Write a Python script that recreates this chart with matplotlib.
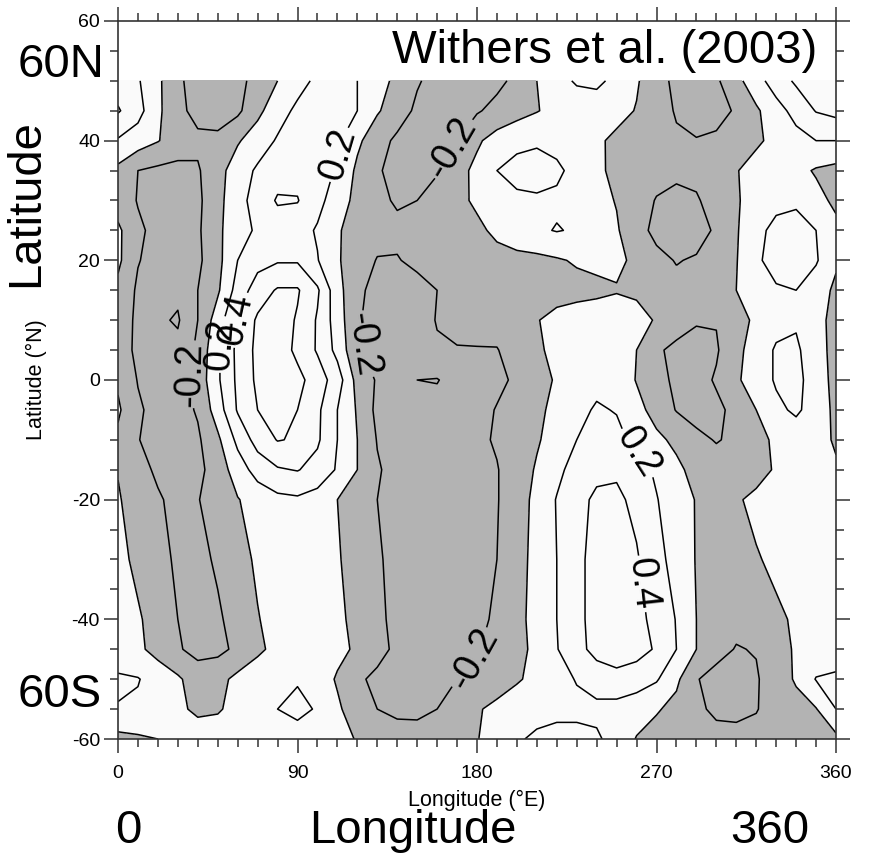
import numpy as np
import matplotlib
matplotlib.use("Agg")
import matplotlib.pyplot as plt
from matplotlib.ticker import MultipleLocator

plt.rcParams['font.family'] = ['Liberation Sans', 'DejaVu Sans']
plt.rcParams['axes.unicode_minus'] = False

# ---- data ----
lon = [0, 10, 20, 30, 40, 50, 60, 70, 80, 90, 100, 110, 120, 130, 140, 150, 160, 170, 180,
       190, 200, 210, 220, 230, 240, 250, 260, 270, 280, 290, 300, 310, 320, 330, 340, 350, 360]
lat = [-60, -55, -50, -45, -40, -30, -20, -15, -10, -5, 0, 5, 10, 15, 20, 25, 30, 35, 40, 45, 50]

z_s60 = [-0.06, -0.03, 0.0, 0.05, 0.08, 0.1, 0.12, 0.14, 0.15, 0.15, 0.18, 0.1, -0.02, -0.08, -0.12, -0.13, -0.12, -0.08, -0.01,
         0.1, 0.18, 0.23, 0.25, 0.25, 0.23, 0.12, -0.01, -0.08, -0.11, -0.13, -0.15, -0.15, -0.14, -0.11, -0.08, -0.06, -0.05]
z_s55 = [0.19, 0.17, 0.1, 0.03, -0.03, -0.02, 0.06, 0.12, 0.2, 0.23, 0.19, 0.03, -0.1, -0.2, -0.24, -0.24, -0.2, -0.12, -0.02,
         0.05, 0.1, 0.14, 0.16, 0.16, 0.15, 0.13, 0.08, 0.02, -0.06, -0.17, -0.23, -0.24, -0.21, -0.12, -0.06, -0.01, 0.2]
z_s50 = [0.23, 0.21, 0.12, 0.03, -0.1, -0.06, 0.05, 0.12, 0.16, 0.19, 0.1, -0.02, -0.17, -0.24, -0.27, -0.26, -0.23, -0.2, -0.16,
         -0.1, -0.02, 0.05, 0.14, 0.21, 0.3, 0.34, 0.3, 0.22, 0.04, -0.19, -0.26, -0.27, -0.22, -0.09, 0.02, 0.21, 0.24]
z_s45 = [0.08, 0.04, -0.07, -0.18, -0.26, -0.25, -0.16, -0.04, 0.06, 0.1, 0.09, 0.05, -0.03, -0.14, -0.24, -0.28, -0.29, -0.26, -0.21,
         -0.15, -0.06, 0.05, 0.19, 0.34, 0.46, 0.5, 0.47, 0.38, 0.2, 0.0, -0.14, -0.21, -0.19, -0.1, 0.03, 0.07, 0.08]
z_s40 = [0.06, 0.02, -0.07, -0.2, -0.27, -0.23, -0.12, -0.01, 0.07, 0.1, 0.08, 0.03, -0.04, -0.16, -0.25, -0.28, -0.29, -0.27, -0.23,
         -0.18, -0.05, 0.06, 0.2, 0.35, 0.47, 0.5, 0.46, 0.34, 0.19, 0.0, -0.1, -0.15, -0.11, -0.04, 0.03, 0.06, 0.06]
z_s30 = [0.05, -0.04, -0.14, -0.23, -0.26, -0.17, -0.07, 0.03, 0.09, 0.11, 0.08, 0.02, -0.09, -0.18, -0.25, -0.28, -0.29, -0.28, -0.25,
         -0.2, -0.07, 0.06, 0.2, 0.35, 0.47, 0.5, 0.42, 0.27, 0.12, -0.01, -0.1, -0.1, -0.02, 0.05, 0.08, 0.08, 0.07]
z_s20 = [0.02, -0.1, -0.18, -0.25, -0.21, -0.1, -0.01, 0.08, 0.15, 0.17, 0.12, 0.0, -0.12, -0.2, -0.25, -0.28, -0.29, -0.28, -0.25,
         -0.21, -0.1, 0.06, 0.21, 0.35, 0.43, 0.44, 0.35, 0.21, 0.09, -0.01, -0.12, -0.03, 0.06, 0.1, 0.1, 0.08, 0.05]
z_s15 = [-0.01, -0.14, -0.23, -0.28, -0.25, -0.11, 0.1, 0.28, 0.38, 0.41, 0.33, 0.18, 0.0, -0.18, -0.27, -0.3, -0.31, -0.3, -0.27,
         -0.21, -0.1, 0.02, 0.15, 0.28, 0.36, 0.37, 0.28, 0.17, 0.04, -0.06, -0.13, -0.15, -0.1, 0.03, 0.08, 0.06, 0.02]
z_s10 = [-0.04, -0.19, -0.3, -0.32, -0.23, -0.04, 0.25, 0.48, 0.61, 0.58, 0.43, 0.2, 0.0, -0.21, -0.28, -0.3, -0.3, -0.28, -0.24,
         -0.18, -0.1, -0.02, 0.08, 0.2, 0.28, 0.25, 0.15, 0.04, -0.04, -0.16, -0.21, -0.17, -0.07, 0.04, 0.1, 0.06, -0.02]
z_s05 = [0.03, -0.17, -0.27, -0.28, -0.18, 0.1, 0.42, 0.6, 0.65, 0.6, 0.44, 0.2, -0.02, -0.25, -0.3, -0.32, -0.33, -0.3, -0.26,
         -0.19, -0.12, -0.04, 0.05, 0.15, 0.22, 0.19, 0.06, -0.07, -0.21, -0.26, -0.24, -0.15, 0.0, 0.16, 0.23, 0.12, -0.05]
z_eq = [-0.03, -0.21, -0.3, -0.3, -0.13, 0.17, 0.44, 0.64, 0.7, 0.66, 0.5, 0.3, -0.07, -0.22, -0.3, -0.4, -0.41, -0.32, -0.28,
        -0.24, -0.17, -0.07, 0.02, 0.1, 0.15, 0.12, -0.01, -0.15, -0.23, -0.27, -0.18, -0.03, 0.1, 0.22, 0.27, 0.08, -0.05]
z_n05 = [-0.06, -0.26, -0.34, -0.35, -0.16, 0.17, 0.45, 0.65, 0.72, 0.55, 0.38, 0.14, -0.17, -0.28, -0.32, -0.3, -0.22, -0.21, -0.21,
         -0.21, -0.1, -0.03, 0.05, 0.09, 0.1, 0.07, 0.0, -0.17, -0.25, -0.28, -0.22, -0.06, 0.1, 0.22, 0.24, 0.06, -0.05]
z_n10 = [-0.06, -0.25, -0.37, -0.42, -0.2, 0.1, 0.42, 0.63, 0.7, 0.58, 0.38, 0.1, -0.18, -0.27, -0.3, -0.28, -0.19, -0.15, -0.13,
         -0.11, -0.08, -0.01, 0.06, 0.09, 0.1, 0.08, 0.04, -0.01, -0.1, -0.18, -0.19, -0.08, 0.04, 0.14, 0.17, 0.05, -0.05]
z_n15 = [-0.05, -0.23, -0.33, -0.36, -0.2, -0.03, 0.28, 0.5, 0.62, 0.62, 0.43, 0.07, -0.16, -0.26, -0.29, -0.26, -0.2, -0.15, -0.13,
         -0.12, -0.11, -0.1, -0.08, -0.06, -0.04, -0.01, -0.02, -0.1, -0.15, -0.16, -0.1, 0.0, 0.12, 0.18, 0.2, 0.1, -0.04]
z_n20 = [0.04, -0.19, -0.27, -0.29, -0.24, -0.06, 0.2, 0.33, 0.38, 0.38, 0.21, 0.02, -0.1, -0.21, -0.21, -0.16, -0.12, -0.1, -0.09,
         -0.08, -0.06, -0.05, -0.02, 0.02, 0.04, 0.03, -0.03, -0.15, -0.21, -0.18, -0.1, -0.01, 0.17, 0.27, 0.29, 0.22, 0.03]
z_n25 = [0.04, -0.17, -0.25, -0.27, -0.23, -0.04, 0.12, 0.23, 0.3, 0.28, 0.18, 0.02, -0.08, -0.13, -0.16, -0.17, -0.16, -0.12, -0.05,
         0.05, 0.12, 0.17, 0.21, 0.18, 0.12, 0.02, -0.13, -0.25, -0.3, -0.28, -0.17, -0.02, 0.15, 0.25, 0.27, 0.2, 0.05]
z_n30 = [-0.1, -0.21, -0.27, -0.28, -0.24, -0.06, 0.13, 0.28, 0.42, 0.41, 0.26, 0.1, -0.06, -0.16, -0.22, -0.2, -0.15, -0.06, 0.04,
         0.12, 0.17, 0.18, 0.17, 0.12, 0.06, -0.01, -0.12, -0.21, -0.25, -0.22, -0.12, -0.02, 0.08, 0.15, 0.17, 0.06, -0.04]
z_n35 = [-0.05, -0.2, -0.24, -0.25, -0.22, -0.07, 0.1, 0.23, 0.32, 0.34, 0.28, 0.18, -0.04, -0.18, -0.26, -0.27, -0.21, -0.07, 0.05,
         0.2, 0.25, 0.26, 0.23, 0.15, 0.04, -0.05, -0.1, -0.14, -0.16, -0.15, -0.1, -0.01, 0.07, 0.1, 0.06, -0.02, -0.06]
z_n40 = [0.18, 0.1, 0.01, -0.1, -0.16, -0.15, -0.02, 0.1, 0.22, 0.28, 0.3, 0.24, 0.04, -0.12, -0.24, -0.3, -0.28, -0.2, -0.03,
         0.08, 0.16, 0.18, 0.15, 0.1, 0.03, -0.04, -0.09, -0.13, -0.17, -0.19, -0.17, -0.11, -0.03, 0.05, 0.13, 0.2, 0.2]
z_n45 = [0.42, 0.27, 0.04, -0.15, -0.26, -0.3, -0.24, -0.05, 0.12, 0.24, 0.3, 0.28, 0.2, 0.02, -0.1, -0.24, -0.33, -0.32, -0.22,
         -0.14, -0.08, -0.01, 0.06, 0.1, 0.1, 0.06, -0.01, -0.1, -0.22, -0.28, -0.26, -0.18, -0.03, 0.12, 0.27, 0.41, 0.46]
z_n50 = [0.3, 0.22, 0.04, -0.17, -0.27, -0.3, -0.25, -0.14, 0.0, 0.13, 0.24, 0.28, 0.2, 0.08, -0.05, -0.18, -0.27, -0.32, -0.3,
         -0.25, -0.15, 0.0, 0.14, 0.22, 0.24, 0.15, 0.02, -0.12, -0.25, -0.3, -0.23, -0.06, 0.12, 0.3, 0.43, 0.5, 0.52]

rows = [z_s60, z_s55, z_s50, z_s45, z_s40, z_s30, z_s20, z_s15, z_s10, z_s05, z_eq,
        z_n05, z_n10, z_n15, z_n20, z_n25, z_n30, z_n35, z_n40, z_n45, z_n50]

x_ticks = [0, 90, 180, 270, 360]
y_ticks = [-60, -40, -20, 0, 20, 40, 60]
line_levels = [-0.4, -0.2, 0.0, 0.2, 0.4, 0.6]
label_spots = {
    -0.2: [(35, 1), (128, 6), (166, 39), (180, -47)],
    0.2: [(50, 6), (105, 38), (266, -11)],
    0.4: [(61, 10), (265, -34)],
}

# ---- figure ----
W, H = 870, 855
fig = plt.figure(figsize=(W / 100, H / 100), dpi=100)
ax = fig.add_axes([118 / W, 1 - 739 / H, (836 - 118) / W, (739 - 21) / H])

Z = np.array(rows)
ax.contourf(lon, lat, Z, levels=[-2, 0, 2], colors=['#b3b3b3', '#fafafa'])
lab_fs = 27
for lev in line_levels:
    cs = ax.contour(lon, lat, Z, levels=[lev], colors='black',
                    linewidths=1.1, linestyles='solid')
    if lev in label_spots:
        cs.clabel(inline=True, fmt='%g', fontsize=lab_fs, manual=label_spots[lev])

ax.set_xlim(0, 360)
ax.set_ylim(-60, 60)
ax.set_xticks(x_ticks)
ax.set_yticks(y_ticks)
ax.set_xticklabels([str(v) for v in x_ticks])
ax.set_yticklabels([str(v) for v in y_ticks])
ax.xaxis.set_minor_locator(MultipleLocator(10))
ax.yaxis.set_minor_locator(MultipleLocator(5))
ax.tick_params(which='both', direction='out', top=True, right=True,
               labeltop=False, labelright=False, width=1.1, color='#333333')
ax.tick_params(which='major', length=10, labelsize=14)
ax.tick_params(which='minor', length=5.5)
ax.tick_params(axis='x', which='major', pad=9)
ax.tick_params(axis='y', which='major', pad=3)
for s in ax.spines.values():
    s.set_linewidth(1.2)
    s.set_color('#333333')

# axis labels
fig.text(36 / W, 1 - 380 / H, 'Latitude (°N)', rotation=90, ha='center', va='center', fontsize=15.5)
fig.text(477 / W, 1 - 800 / H, 'Longitude (°E)', ha='center', va='center', fontsize=15.5)

# large annotations
big = 34
fig.text(817 / W, 1 - 63 / H, 'Withers et al. (2003)', ha='right', va='baseline', fontsize=big)
fig.text(18 / W, 1 - 77 / H, '60N', ha='left', va='baseline', fontsize=big)
fig.text(18 / W, 1 - 707 / H, '60S', ha='left', va='baseline', fontsize=big)
fig.text(26.5 / W, 1 - 203.5 / H, 'Latitude', rotation=90, ha='center', va='center', fontsize=big)
fig.text(128 / W, 1 - 843 / H, '0', ha='center', va='baseline', fontsize=big)
fig.text(413 / W, 1 - 843 / H, 'Longitude', ha='center', va='baseline', fontsize=big)
fig.text(770 / W, 1 - 843 / H, '360', ha='center', va='baseline', fontsize=big)

fig.savefig('out.png', dpi=100)
